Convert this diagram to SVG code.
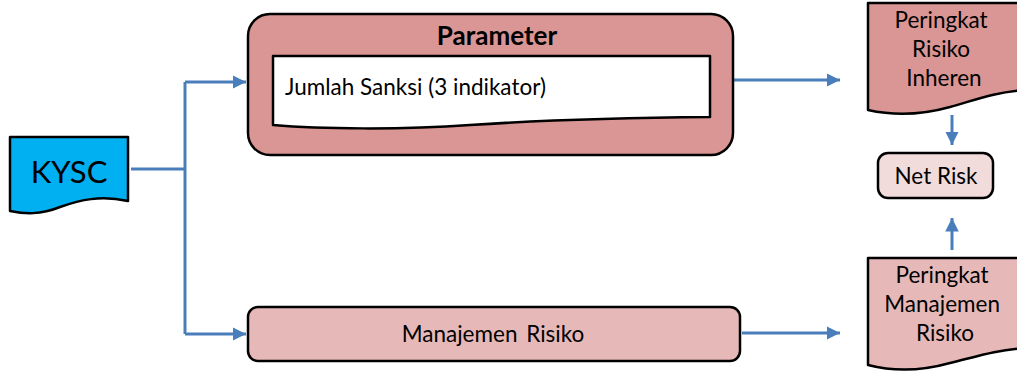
<svg xmlns="http://www.w3.org/2000/svg" width="1017" height="372" viewBox="0 0 1017 372">
  <style>
    .txt { font-family: Lato, "Liberation Sans", sans-serif; fill: #000; }
    .shape { stroke: #000; stroke-width: 2.5; stroke-linejoin: round; }
    .conn { stroke: #4A7EBB; stroke-width: 3; fill: none; }
  </style>
  <defs>
    <marker id="arrow" viewBox="0 0 10 10" refX="10" refY="5" markerWidth="4.5" markerHeight="4.5" orient="auto" markerUnits="strokeWidth">
      <path d="M0,0 L10,5 L0,10 Z" fill="#4A7EBB"/>
    </marker>
  </defs>
  <rect width="1017" height="372" fill="#fff"/>

  <!-- connectors -->
  <g id="connectors">
    <path class="conn" d="M131,169 H185"/>
    <path class="conn" d="M185,82 V334"/>
    <path class="conn" d="M185,82 H246" marker-end="url(#arrow)"/>
    <path class="conn" d="M185,334 H246" marker-end="url(#arrow)"/>
    <path class="conn" d="M734,80 H840" marker-end="url(#arrow)"/>
    <path class="conn" d="M742,333 H840" marker-end="url(#arrow)"/>
    <path class="conn" d="M952,115 V145" marker-end="url(#arrow)"/>
    <path class="conn" d="M952,250 V218" marker-end="url(#arrow)"/>
  </g>

  <!-- KYSC document -->
  <g id="kysc">
    <path class="shape" fill="#00B0F0" d="M10,137 H128 V201 C 100,195 80,200 60,207 C 40,215 25,214 10,211 Z"/>
    <text class="txt" x="69" y="183" font-size="31" text-anchor="middle">KYSC</text>
  </g>

  <!-- Parameter container -->
  <g id="parameter">
    <rect class="shape" fill="#D99694" x="248" y="14" width="485" height="141" rx="22" ry="22"/>
    <text class="txt" x="497" y="45" font-size="26" font-weight="bold" text-anchor="middle">Parameter</text>
  </g>

  <!-- indicator document inside Parameter -->
  <g id="jumlah-sanksi">
    <path class="shape" fill="#fff" d="M273,56 H710 V117 C 600,118 530,121 470,125 C 400,130 320,129 273,125 Z"/>
    <text class="txt" x="285" y="95" font-size="22.5">Jumlah Sanksi (3 indikator)</text>
  </g>

  <!-- Manajemen Risiko -->
  <g id="manajemen-risiko">
    <rect class="shape" fill="#E6B9B8" x="248" y="307" width="492" height="54" rx="10" ry="10"/>
    <text class="txt" x="493" y="342" font-size="22.5" text-anchor="middle" word-spacing="3">Manajemen Risiko</text>
  </g>

  <!-- Peringkat Risiko Inheren document -->
  <g id="risiko-inheren">
    <path class="shape" fill="#D99694" d="M868,3 H1025 V90 C 995,92 975,100 950,107 C 925,114 895,116 868,110 Z"/>
    <text class="txt" font-size="22.5" text-anchor="middle">
      <tspan x="944" y="28">Peringkat</tspan>
      <tspan x="944" y="57">Risiko</tspan>
      <tspan x="944" y="86">Inheren</tspan>
    </text>
  </g>

  <!-- Net Risk -->
  <g id="net-risk">
    <rect class="shape" fill="#F2DCDB" x="878" y="153" width="115" height="45" rx="10" ry="10"/>
    <text class="txt" x="936" y="184" font-size="22.5" text-anchor="middle">Net Risk</text>
  </g>

  <!-- Peringkat Manajemen Risiko document -->
  <g id="manajemen-risiko-rating">
    <path class="shape" fill="#E6B9B8" d="M868,258 H1025 V348 C 995,350 975,357 950,363 C 925,370 895,372 868,365 Z"/>
    <text class="txt" font-size="22.5" text-anchor="middle">
      <tspan x="945" y="283">Peringkat</tspan>
      <tspan x="945" y="312">Manajemen</tspan>
      <tspan x="945" y="341">Risiko</tspan>
    </text>
  </g>
</svg>
